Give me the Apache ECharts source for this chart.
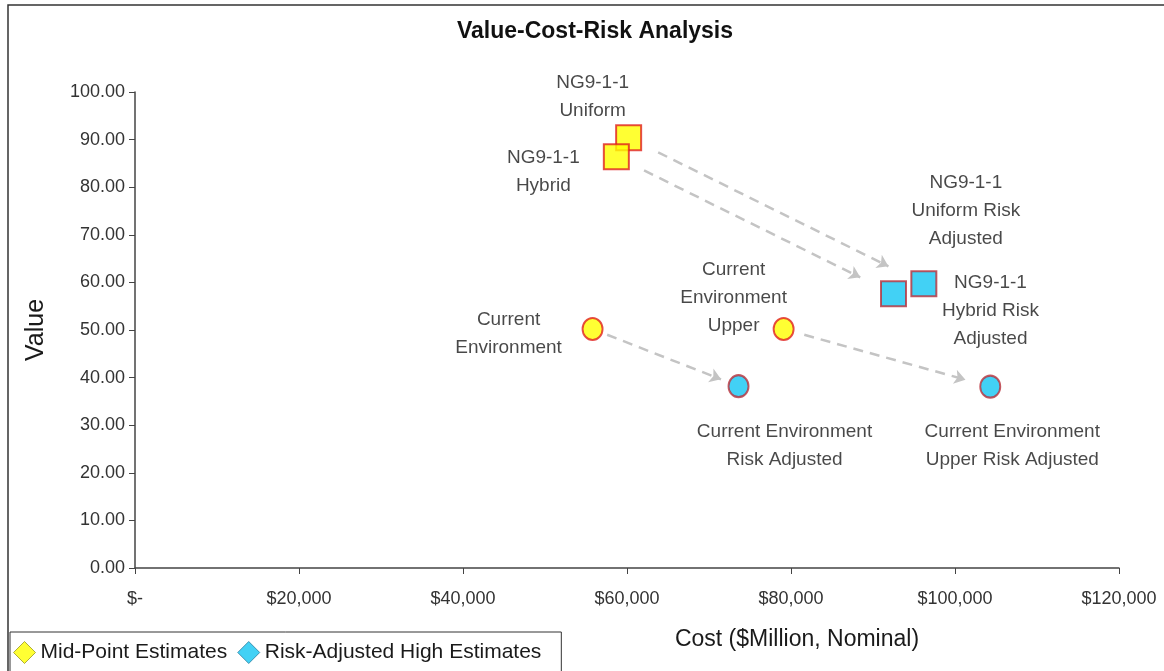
<!DOCTYPE html>
<html>
<head>
<meta charset="utf-8">
<script src="https://cdn.jsdelivr.net/npm/echarts@6/dist/echarts.min.js"></script>
<style>
html,body{margin:0;padding:0;background:#fff;}
#chart{width:1164px;height:671px;}
</style>
</head>
<body>
<div id="chart"></div>
<script>
// ---- data ----
const midLabels = ['NG9-1-1\nUniform', 'NG9-1-1\nHybrid', 'Current\nEnvironment', 'Current\nEnvironment\nUpper'];
const midCost = [60200, 58700, 55800, 79100];
const midValue = [90.4, 86.4, 50.2, 50.2];
const riskLabels = ['NG9-1-1\nUniform Risk\nAdjusted', 'NG9-1-1\nHybrid Risk\nAdjusted', 'Current Environment\nRisk Adjusted', 'Current Environment\nUpper Risk Adjusted'];
const riskCost = [96200, 92500, 73600, 104300];
const riskValue = [59.7, 57.6, 38.2, 38.1];
const shapes = ['rect', 'rect', 'circle', 'circle'];
const yTicks = [0, 10, 20, 30, 40, 50, 60, 70, 80, 90, 100];
const xTicks = [0, 20000, 40000, 60000, 80000, 100000, 120000];

// ---- layout / style ----
const FONT = "'Liberation Sans', Arial, sans-serif";
const midOffsets = [[-36, -41], [-73, 15], [-84, 5], [-50, -31]];
const riskOffsets = [[42, -73], [97, 17], [46, 60], [22, 59]];
const arrowFrom = 0.1, arrowTo = 0.88;

function sym(shape) { return shape === 'rect' ? 'rect' : 'circle'; }
function symSize(shape) { return shape === 'rect' ? [25, 25] : [20, 22]; }

function buildPoints(costs, values, labels, offsets, fill, border) {
  return costs.map((c, i) => ({
    value: [c, values[i]],
    symbol: sym(shapes[i]),
    symbolSize: symSize(shapes[i]),
    itemStyle: { color: fill, borderColor: border, borderWidth: 2 },
    label: {
      show: true, formatter: labels[i], position: 'inside',
      offset: offsets[i], align: 'center', verticalAlign: 'middle',
      fontFamily: FONT, fontSize: 19, lineHeight: 28, color: '#1a1a1a'
    }
  }));
}

const arrows = midCost.map((c, i) => {
  const x0 = c, y0 = midValue[i], x1 = riskCost[i], y1 = riskValue[i];
  return { coords: [
    [x0 + (x1 - x0) * arrowFrom, y0 + (y1 - y0) * arrowFrom],
    [x0 + (x1 - x0) * arrowTo, y0 + (y1 - y0) * arrowTo]
  ] };
});

const chart = echarts.init(document.getElementById('chart'), null, { renderer: 'canvas' });
chart.setOption({
  animation: false,
  backgroundColor: '#fff',
  textStyle: { fontFamily: FONT },
  title: {
    text: 'Value-Cost-Risk Analysis', left: 590, top: 15, textAlign: 'center',
    textStyle: { fontFamily: FONT, fontSize: 23, fontWeight: 'bold', color: '#111' }
  },
  graphic: [{
    type: 'rect', shape: { x: 8, y: 5, width: 1200, height: 700 },
    style: { fill: 'none', stroke: '#333', lineWidth: 1.5 }, silent: true, z: -1
  }],
  legend: {
    left: 10, top: 632, orient: 'horizontal',
    padding: [9, 20, 12, 3], itemGap: 10, itemWidth: 22, itemHeight: 22,
    borderColor: '#333', borderWidth: 1,
    textStyle: { fontFamily: FONT, fontSize: 21, color: '#1a1a1a' },
    data: [
      { name: 'Mid-Point Estimates', icon: 'diamond', itemStyle: { color: '#FFFF00', borderColor: '#9a9a20', borderWidth: 1 } },
      { name: 'Risk-Adjusted High Estimates', icon: 'diamond', itemStyle: { color: '#13C6F2', borderColor: '#2a7fa0', borderWidth: 1 } }
    ]
  },
  grid: { left: 135, right: 45, top: 92, bottom: 103 },
  xAxis: {
    type: 'value', min: xTicks[0], max: xTicks[xTicks.length - 1], interval: xTicks[1] - xTicks[0],
    name: 'Cost ($Million, Nominal)', nameLocation: 'middle', nameGap: 60,
    nameTextStyle: { fontFamily: FONT, fontSize: 23, color: '#1a1a1a', padding: [0, 0, 0, 340] },
    axisLine: { show: true, onZero: false, lineStyle: { color: '#444', width: 1.5 } },
    axisTick: { show: true, length: 6, lineStyle: { color: '#444' } },
    axisLabel: {
      fontFamily: FONT, fontSize: 18, color: '#333', margin: 22,
      formatter: v => v === 0 ? '$-' : '$' + v.toLocaleString('en-US')
    },
    splitLine: { show: false }
  },
  yAxis: {
    type: 'value', min: yTicks[0], max: yTicks[yTicks.length - 1], interval: yTicks[1] - yTicks[0],
    name: 'Value', nameLocation: 'middle', nameGap: 86, nameRotate: 90,
    nameTextStyle: { fontFamily: FONT, fontSize: 25, color: '#1a1a1a' },
    axisLine: { show: true, onZero: false, lineStyle: { color: '#444', width: 1.5 } },
    axisTick: { show: true, length: 6, lineStyle: { color: '#444' } },
    axisLabel: { fontFamily: FONT, fontSize: 18, color: '#333', margin: 10, formatter: v => v.toFixed(2) },
    splitLine: { show: false }
  },
  series: [
    {
      type: 'lines', coordinateSystem: 'cartesian2d', polyline: false, silent: true,
      symbol: ['none', 'arrow'], symbolSize: 11,
      lineStyle: { color: '#c4c4c4', width: 2.5, type: [10, 7], opacity: 1 },
      data: arrows, z: 1
    },
    {
      name: 'Mid-Point Estimates', type: 'scatter', z: 3,
      itemStyle: { color: '#FFFF00' },
      data: buildPoints(midCost, midValue, midLabels, midOffsets, '#FFFF00', '#E0201E')
    },
    {
      name: 'Risk-Adjusted High Estimates', type: 'scatter', z: 3,
      itemStyle: { color: '#13C6F2' },
      data: buildPoints(riskCost, riskValue, riskLabels, riskOffsets, '#13C6F2', '#B8303A')
    }
  ]
});
</script>
</body>
</html>
